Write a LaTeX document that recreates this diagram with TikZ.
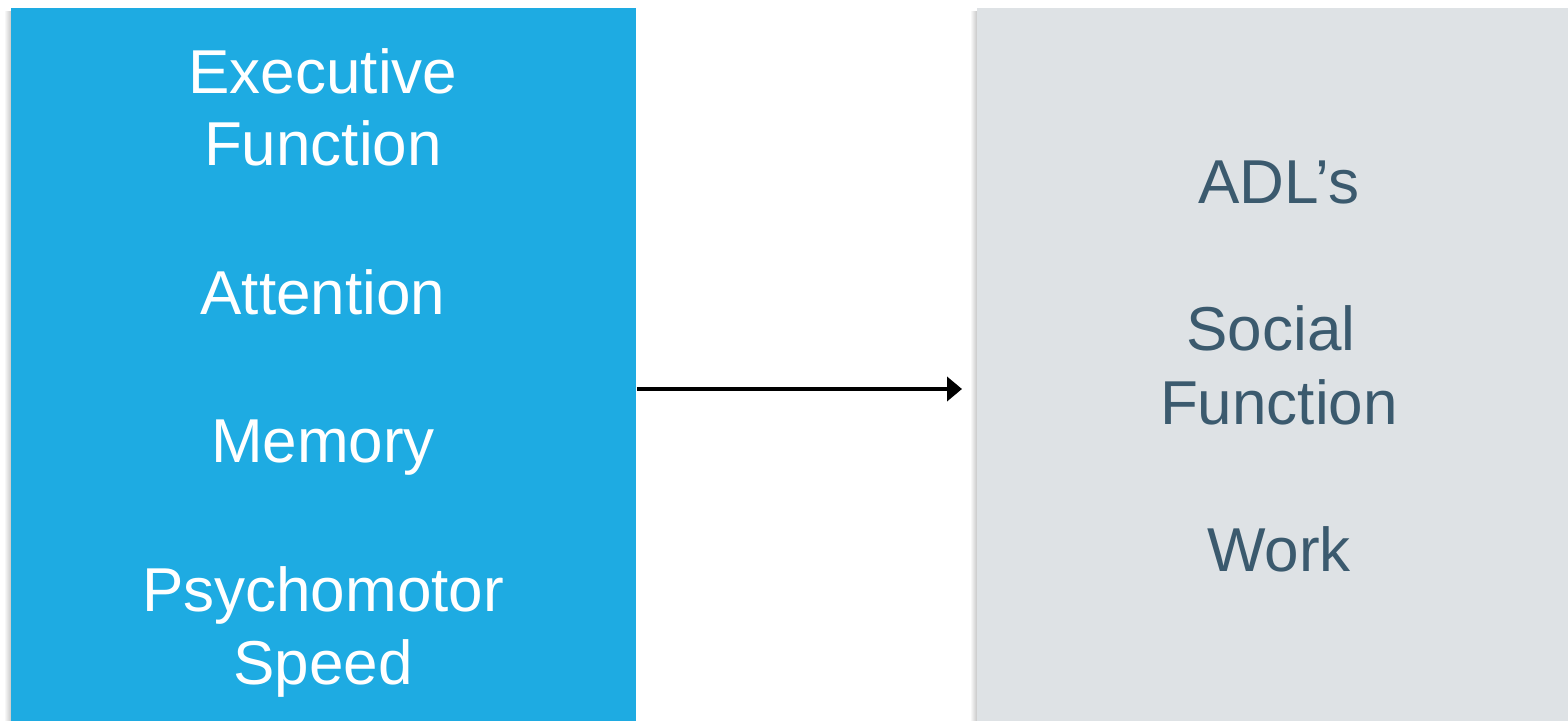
\documentclass[tikz,border=0pt]{standalone}
\usepackage{fontspec}
\setmainfont{Liberation Sans}
\usetikzlibrary{arrows.meta}
\definecolor{boxblue}{HTML}{1EABE2}
\definecolor{boxgray}{HTML}{DEE2E5}
\definecolor{slate}{HTML}{3B5A6E}
\tikzset{
  lbl/.style={anchor=base, font=\fontsize{31pt}{37pt}\selectfont, inner sep=0pt},
  ltxt/.style={lbl, text=white},
  rtxt/.style={lbl, text=slate},
  conn/.style={line width=2.4pt, -{Triangle[length=7.5pt,width=12pt]}},
}
\begin{document}
\begin{tikzpicture}[x=0.5pt,y=-0.5pt]
\useasboundingbox (0,0) rectangle (1568,721);
\fill[white] (0,0) rectangle (1568,721);
% soft shadows
\shade[left color=white, right color=black!22] (4,12) rectangle (11,721);
\shade[left color=white, right color=black!22] (970,12) rectangle (977,721);
% boxes
\node[fill=boxblue, inner sep=0pt, minimum width=312.5pt, minimum height=356.5pt, anchor=north west] (L) at (11,8) {};
\node[fill=boxgray, inner sep=0pt, minimum width=295.5pt, minimum height=356.5pt, anchor=north west] (R) at (977,8) {};
% left texts
\node[ltxt] (l1) at (323,94) {Executive};
\node[ltxt] (l2) at (323,166) {Function};
\node[ltxt] (l3) at (323,315) {Attention};
\node[ltxt] (l4) at (323,462) {Memory};
\node[ltxt] (l5) at (323,611) {Psychomotor};
\node[ltxt] (l6) at (323,684) {Speed};
% right texts
\node[rtxt] (r1) at (1279,204) {ADL’s};
\node[rtxt] (r2) at (1271,351) {Social};
\node[rtxt] (r3) at (1279,424) {Function};
\node[rtxt] (r4) at (1279,571) {Work};
% arrow
\coordinate (s) at (636,389);
\coordinate (e) at (962,389);
\draw[conn] (L.east |- s) -- (e);
\end{tikzpicture}
\end{document}
